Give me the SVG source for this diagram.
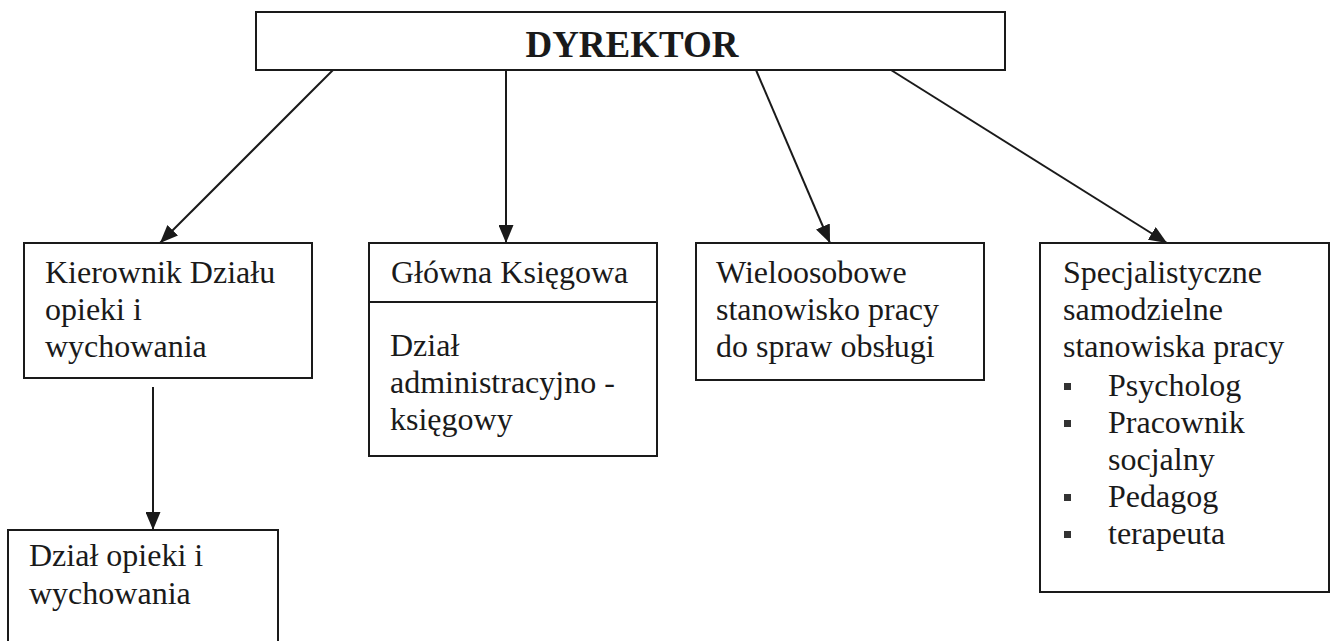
<svg xmlns="http://www.w3.org/2000/svg" width="1334" height="641" viewBox="0 0 1334 641">
<style>
.box{fill:none;stroke:#1a1a1a;stroke-width:2}
.t{font-family:"Liberation Serif","Times New Roman",serif;font-size:32px;fill:#1a1a1a}
.tb{font-family:"Liberation Serif","Times New Roman",serif;font-size:37px;font-weight:bold;fill:#1a1a1a}
.c{fill:none;stroke:#1a1a1a;stroke-width:2}
.bul{fill:#333}
</style>
<defs>
<marker id="ah" viewBox="0 0 18 15" refX="18" refY="7.5" markerWidth="18" markerHeight="15" markerUnits="userSpaceOnUse" orient="auto">
<path d="M0,0 L18,7.5 L0,15 Z" fill="#1a1a1a"/>
</marker>
</defs>
<rect x="0" y="0" width="1334" height="641" fill="#ffffff"/>
<g id="connectors">
<line class="c" x1="333" y1="70" x2="160" y2="243" marker-end="url(#ah)"/>
<line class="c" x1="506" y1="70" x2="506" y2="243" marker-end="url(#ah)"/>
<line class="c" x1="756" y1="70" x2="830" y2="243" marker-end="url(#ah)"/>
<line class="c" x1="891" y1="70" x2="1167" y2="243" marker-end="url(#ah)"/>
<line class="c" x1="153" y1="387" x2="153" y2="530" marker-end="url(#ah)"/>
</g>
<g id="dyrektor">
<rect class="box" x="256" y="12" width="749" height="58"/>
<text class="tb" x="632" y="57" text-anchor="middle">DYREKTOR</text>
</g>
<g id="kierownik">
<rect class="box" x="24" y="243" width="288" height="135"/>
<text class="t" x="45" y="283">Kierownik Działu</text>
<text class="t" x="45" y="320">opieki i</text>
<text class="t" x="45" y="357">wychowania</text>
</g>
<g id="glowna">
<rect class="box" x="369" y="243" width="288" height="213"/>
<line class="box" x1="369" y1="302" x2="657" y2="302"/>
<text class="t" x="391" y="283">Główna Księgowa</text>
<text class="t" x="390" y="356">Dział</text>
<text class="t" x="390" y="393">administracyjno -</text>
<text class="t" x="390" y="430">księgowy</text>
</g>
<g id="wieloosobowe">
<rect class="box" x="696" y="243" width="288" height="137"/>
<text class="t" x="716" y="283">Wieloosobowe</text>
<text class="t" x="716" y="320">stanowisko pracy</text>
<text class="t" x="716" y="357">do spraw obsługi</text>
</g>
<g id="specjalistyczne">
<rect class="box" x="1040" y="243" width="289" height="349"/>
<text class="t" x="1063" y="283">Specjalistyczne</text>
<text class="t" x="1063" y="320">samodzielne</text>
<text class="t" x="1063" y="357">stanowiska pracy</text>
<rect class="bul" x="1064" y="383" width="7" height="7"/>
<text class="t" x="1108" y="396">Psycholog</text>
<rect class="bul" x="1064" y="420" width="7" height="7"/>
<text class="t" x="1108" y="433">Pracownik</text>
<text class="t" x="1108" y="470">socjalny</text>
<rect class="bul" x="1064" y="494" width="7" height="7"/>
<text class="t" x="1108" y="507">Pedagog</text>
<rect class="bul" x="1064" y="531" width="7" height="7"/>
<text class="t" x="1108" y="544">terapeuta</text>
</g>
<g id="dzial-opieki">
<rect class="box" x="8" y="530" width="270" height="130"/>
<text class="t" x="29" y="566">Dział opieki i</text>
<text class="t" x="29" y="604">wychowania</text>
</g>
</svg>
